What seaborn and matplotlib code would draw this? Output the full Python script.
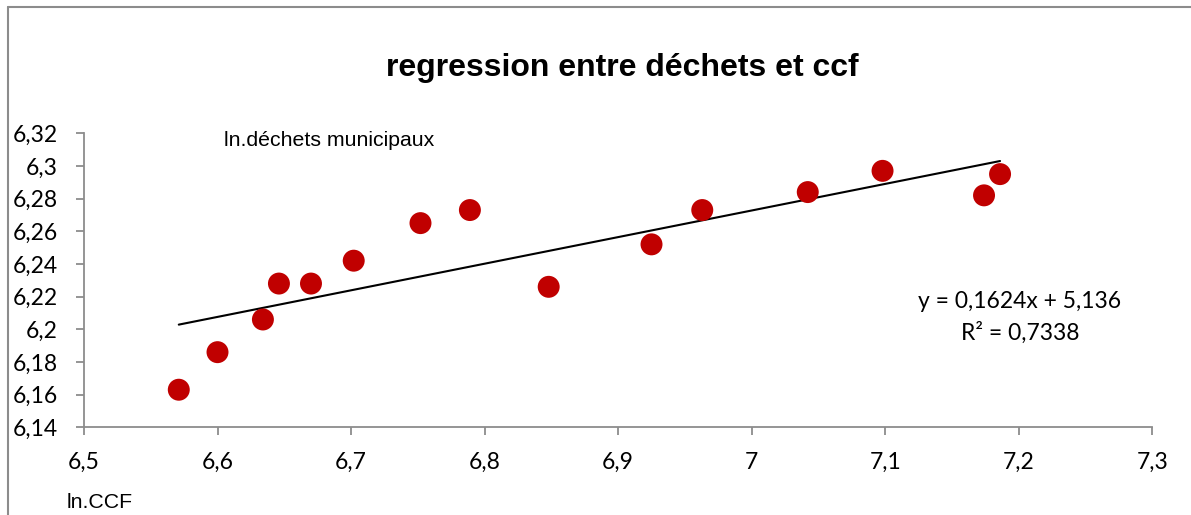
import numpy as np
import pandas as pd
import matplotlib
matplotlib.use("Agg")
import matplotlib.pyplot as plt
import seaborn as sns
from matplotlib.lines import Line2D

# data
ln_ccf = [6.571, 6.600, 6.634, 6.646, 6.670, 6.702, 6.752, 6.789, 6.848,
          6.925, 6.963, 7.042, 7.098, 7.174, 7.186]
ln_dechets = [6.163, 6.186, 6.206, 6.228, 6.228, 6.242, 6.265, 6.273, 6.226,
              6.252, 6.273, 6.284, 6.297, 6.282, 6.295]
x_ticks = [6.5, 6.6, 6.7, 6.8, 6.9, 7.0, 7.1, 7.2, 7.3]
y_ticks = [6.14, 6.16, 6.18, 6.2, 6.22, 6.24, 6.26, 6.28, 6.3, 6.32]

df = pd.DataFrame({"ln_ccf": ln_ccf, "ln_dechets": ln_dechets})

sns.set_style("white")
plt.rcParams['font.family'] = ['Lato', 'DejaVu Sans']
plt.rcParams['text.color'] = 'black'

fig = plt.figure(figsize=(11.91, 5.15), dpi=100)
ax = fig.add_axes([0.0705, 0.1703, 0.897, 0.5709])

sns.regplot(x="ln_ccf", y="ln_dechets", data=df, scatter=False, ci=None,
            truncate=True, color="black", line_kws={"linewidth": 1.5}, ax=ax)
sns.scatterplot(x="ln_ccf", y="ln_dechets", data=df, color="#C00000", s=250,
                edgecolor="none", ax=ax, zorder=3)

ax.set_xlim(6.5, 7.3)
ax.set_ylim(6.14, 6.32)
ax.set_xticks(x_ticks)
ax.set_yticks(y_ticks)
fmt = lambda v: ("%g" % v).replace(".", ",")
ax.set_xticklabels([fmt(v) for v in x_ticks])
ax.set_yticklabels([fmt(v) for v in y_ticks])
ax.set_xlabel("")
ax.set_ylabel("")

for side in ["top", "right"]:
    ax.spines[side].set_visible(False)
for side in ["left", "bottom"]:
    ax.spines[side].set_color("#8c8c8c")
    ax.spines[side].set_linewidth(1.3)
ax.tick_params(axis="both", direction="out", length=6, width=1.3,
               bottom=True, left=True,
               color="#8c8c8c", labelsize=16.5, labelcolor="black")
ax.tick_params(axis="x", pad=12)
ax.tick_params(axis="y", pad=13)

fig.text(622 / 1191, 1 - 68 / 515, "regression entre déchets et ccf",
         family="Liberation Sans", fontweight="bold", fontsize=23,
         ha="center", va="center")
fig.text(224 / 1191, 1 - 141 / 515, "ln.déchets municipaux",
         family="Liberation Sans", fontsize=15.3, ha="left", va="center")
fig.text(67 / 1191, 1 - 502 / 515, "ln.CCF",
         family="Liberation Sans", fontsize=15.3, ha="left", va="center")
fig.text(1020 / 1191, 1 - 301 / 515, "y = 0,1624x + 5,136",
         fontsize=16.5, ha="center", va="center")
fig.text(1020 / 1191, 1 - 333 / 515, "R² = 0,7338",
         fontsize=16.5, ha="center", va="center")

# chart border (left and top edges visible)
fig.add_artist(Line2D([8 / 1191, 8 / 1191], [0, 1 - 7 / 515],
                      color="#8c8c8c", linewidth=1.5))
fig.add_artist(Line2D([8 / 1191, 1], [1 - 7 / 515, 1 - 7 / 515],
                      color="#8c8c8c", linewidth=1.5))

fig.savefig("out.png", dpi=100)
